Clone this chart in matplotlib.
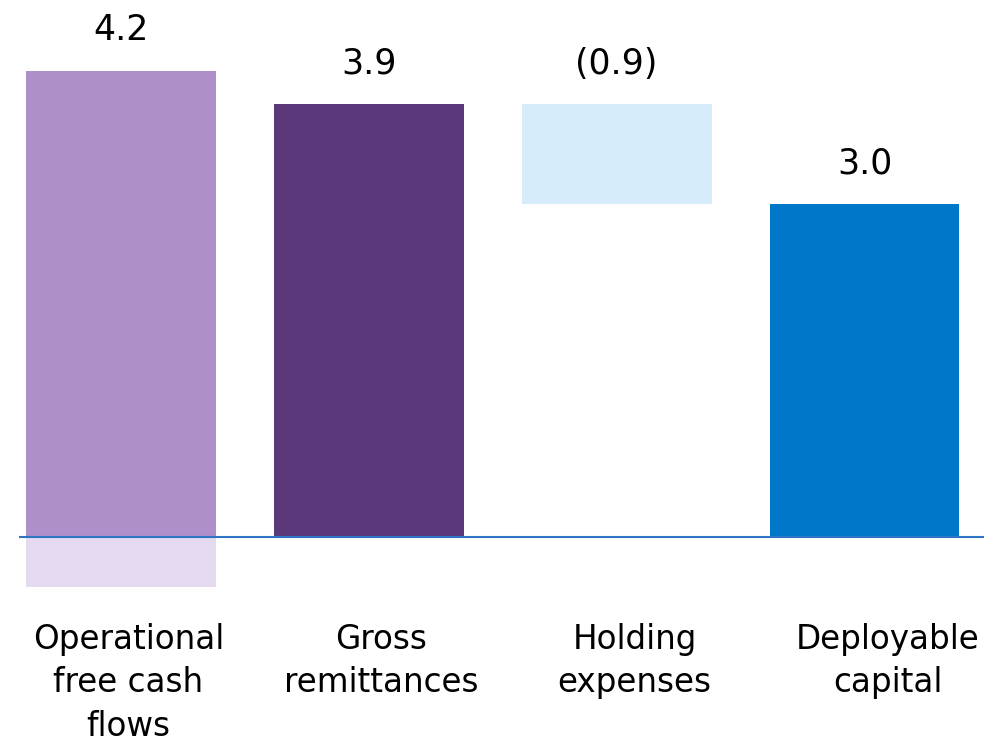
import numpy as np
import matplotlib
matplotlib.use("Agg")
import matplotlib.pyplot as plt

plt.rcParams["font.family"] = ["DejaVu Sans"]

# capital generation walk, in billions
categories = ["Operational\nfree cash\nflows", "Gross\nremittances", "Holding\nexpenses", "Deployable\ncapital"]
values = [4.2, 3.9, -0.9, 3.0]
value_labels = ["4.2", "3.9", "(0.9)", "3.0"]
below_axis = -0.45  # shaded part of the first column under the zero line

colors = ["#AE8FC9", "#5B3879", "#D6ECFB", "#0077C8"]
below_color = "#E5DAF0"
axis_color = "#2E75C6"

fig = plt.figure(figsize=(10.05, 7.43), dpi=100)
ax = fig.add_axes([0, 0, 1, 1])

x = np.arange(len(categories))
width = 0.766

# holding expenses floats down from the remittances level
bottoms = [0, 0, values[1], 0]
heights = [values[0], values[1], values[2], values[3]]
ax.bar(x, heights, width, bottom=bottoms, color=colors, linewidth=0)
ax.bar(x[0], below_axis, width, color=below_color, linewidth=0)

ax.plot([-0.412, 3.482], [0, 0], color=axis_color, lw=1.5, solid_capstyle="butt")

for xi, b, h, lab in zip(x, bottoms, heights, value_labels):
    top = max(b, b + h)
    ax.annotate(lab, (xi, top), xytext=(0, 22), textcoords="offset points",
                ha="center", va="baseline", fontsize=25)

# category captions sit on a slightly wider pitch than the columns
for xi, cat in zip(x, categories):
    ax.text(0.03 + 1.021 * xi, 0.1615, cat, transform=ax.get_xaxis_transform(),
            ha="center", va="top", fontsize=23.5, linespacing=1.4)

ax.set_xlim(-0.488, 3.567)
ax.set_ylim(-1.856, 4.838)
ax.axis("off")

fig.savefig("out.png", dpi=100)
